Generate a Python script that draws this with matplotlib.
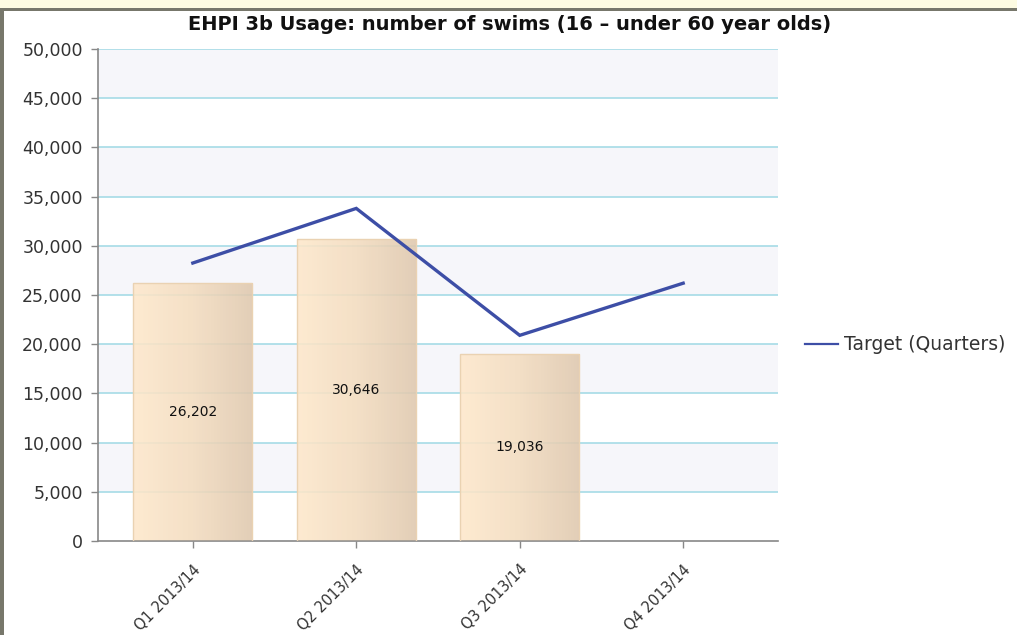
import matplotlib
matplotlib.use("Agg")
import matplotlib.pyplot as plt
import numpy as np
from matplotlib.patches import Rectangle
from matplotlib.ticker import FuncFormatter, MultipleLocator
from matplotlib.colors import LinearSegmentedColormap

categories = ["Q1 2013/14", "Q2 2013/14", "Q3 2013/14", "Q4 2013/14"]
actual = [26202, 30646, 19036]
target = [28250, 33800, 20900, 26200]
bar_labels = ["26,202", "30,646", "19,036"]

W, H = 1017, 635
fig = plt.figure(figsize=(W / 100, H / 100), dpi=100)
fig.patch.set_facecolor("white")

# frame decorations
fig.patches.append(Rectangle((0, 1 - 8 / H), 1, 8 / H, transform=fig.transFigure,
                             facecolor="#fdfbe2", edgecolor="none", zorder=0))
fig.patches.append(Rectangle((0, 1 - 11 / H), 1, 3 / H, transform=fig.transFigure,
                             facecolor="#77776b", edgecolor="none", zorder=0))
fig.patches.append(Rectangle((0, 0), 4 / W, 1 - 8 / H, transform=fig.transFigure,
                             facecolor="#77776b", edgecolor="none", zorder=0))

left, right = 98 / W, 778 / W
bottom, top = 1 - 541 / H, 1 - 49 / H
ax = fig.add_axes([left, bottom, right - left, top - bottom])
ax.set_facecolor("white")

x = np.arange(len(categories))
ax.set_xlim(-0.58, 3.58)
ax.set_ylim(0, 50000)

# alternating bands
for lo in range(5000, 50000, 10000):
    ax.axhspan(lo, lo + 5000, facecolor="#f6f6fa", edgecolor="none", zorder=0)
for yv in range(5000, 50001, 5000):
    ax.axhline(yv, color="#a6dbe6", lw=1.2, zorder=1)

# bars with gradient
bars = ax.bar(x[:len(actual)], actual, width=0.73, color="none",
              edgecolor="#ead2b2", linewidth=1.0, zorder=3)
grad = np.linspace(0, 1, 256).reshape(1, -1)
cmap = LinearSegmentedColormap.from_list("peach", ["#fee8cb", "#f3dcbf", "#dfc8ae"])
for b in bars:
    bx, by = b.get_x(), b.get_y()
    bw, bh = b.get_width(), b.get_height()
    im = ax.imshow(grad, cmap=cmap, aspect="auto", extent=[bx, bx + bw, by, by + bh],
                   zorder=2, alpha=0.88, interpolation="bilinear")
    im.set_clip_path(b)
for xi, v, lab in zip(x, actual, bar_labels):
    ax.text(xi, v / 2, lab, ha="center", va="center", fontsize=10,
            color="#111111", zorder=5)

line, = ax.plot(x, target, color="#3d4ea6", lw=2.4, zorder=4,
                solid_joinstyle="miter", label="Target (Quarters)")

ax.yaxis.set_major_locator(MultipleLocator(5000))
ax.yaxis.set_major_formatter(FuncFormatter(lambda v, p: f"{int(v):,}"))
ax.set_xticks(x)
ax.set_xticklabels(categories, rotation=45, ha="right", rotation_mode="anchor",
                   fontsize=10.5, color="#333333")
ax.tick_params(axis="y", labelsize=12.5, colors="#333333", length=5, width=1,
               direction="out", pad=6)
ax.tick_params(axis="x", length=5, width=1, color="#888888", pad=10)
ax.tick_params(axis="y", color="#888888")
for s in ["top", "right"]:
    ax.spines[s].set_visible(False)
ax.spines["left"].set_color("#888888")
ax.spines["bottom"].set_color("#888888")
ax.spines["left"].set_linewidth(1.2)
ax.spines["bottom"].set_linewidth(1.2)

fig.text(510 / W, 1 - 25 / H, "EHPI 3b Usage: number of swims (16 \u2013 under 60 year olds)",
         ha="center", va="center", fontsize=14, fontweight="bold", color="#111111")

leg = fig.legend(handles=[line], loc="center left", bbox_to_anchor=(797 / W, 1 - 345 / H),
                 frameon=False, fontsize=13.5, handlelength=1.8, handletextpad=0.3,
                 borderaxespad=0)
for t in leg.get_texts():
    t.set_color("#333333")
leg.get_lines()[0].set_linewidth(1.6)

fig.savefig("out.png", dpi=100)
